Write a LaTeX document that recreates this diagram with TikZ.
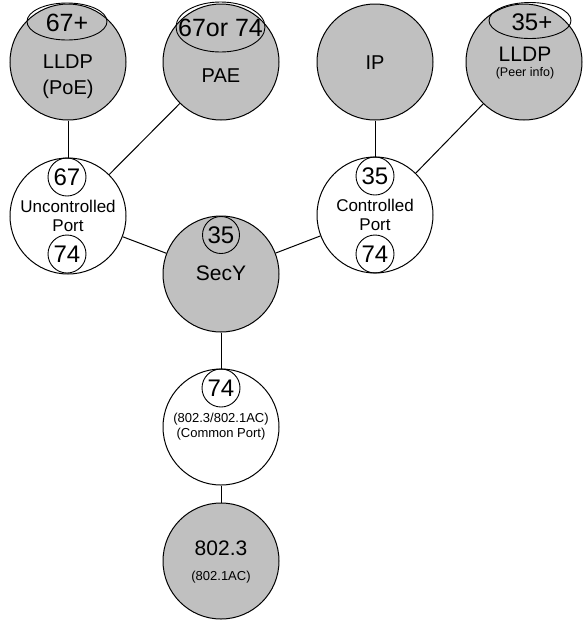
\documentclass[tikz,border=0pt]{standalone}
\usepackage{fontspec}
\setmainfont{Liberation Sans}
\usetikzlibrary{shapes.geometric}
\definecolor{layergray}{HTML}{C0C0C0}
\newcommand{\fs}[1]{\fontsize{#1}{#1}\selectfont}
\begin{document}
\begin{tikzpicture}[x=1pt,y=-1pt,
  big/.style={circle,draw,line width=1pt,minimum size=116pt,inner sep=0pt},
  shaded/.style={big,fill=layergray},
  plain/.style={big,fill=white},
  tag/.style={circle,draw,line width=0.9pt,minimum size=38pt,inner sep=0pt,font=\fs{24}},
  hat/.style={ellipse,draw,line width=0.9pt,inner sep=0pt},
  lbl/.style={inner sep=0pt},
  link/.style={line width=1pt}]
\useasboundingbox (0,0) rectangle (582,622);

% protocol entities
\node[shaded] (lldpA) at (68,62) {};
\node[shaded] (pae) at (221,62) {};
\node[shaded] (ip) at (375,62) {};
\node[shaded] (lldpB) at (524,62) {};
\node[plain] (unc) at (68,216) {};
\node[shaded] (secy) at (221,274) {};
\node[plain] (ctl) at (375,215) {};
\node[plain] (common) at (221,427) {};
\node[shaded] (mac) at (221,561) {};

% connections between entities
\draw[link] (lldpA) -- (unc);
\draw[link] (pae) -- (unc);
\draw[link] (ip) -- (ctl);
\draw[link] (lldpB) -- (ctl);
\draw[link] (unc) -- (secy);
\draw[link] (ctl) -- (secy);
\draw[link] (secy) -- (common);
\draw[link] (common) -- (mac);

% LLDP (PoE)
\node[hat,minimum width=80pt,minimum height=37pt] (lldpAhat) at (67,21.5) {};
\node[lbl,font=\fs{25}] (lldpAtag) at (67,23) {67+};
\node[lbl,font=\fs{20}] (lldpAname) at (68,62) {LLDP};
\node[lbl,font=\fs{20}] (lldpAsub) at (68,89) {(PoE)};

% PAE
\node[hat,minimum width=89pt,minimum height=50pt] (paehat) at (220.5,27) {};
\node[lbl,font=\fs{25}] (paetag) at (220.5,28) {67or 74};
\node[lbl,font=\fs{20}] (paename) at (221,76) {PAE};

% IP
\node[lbl,font=\fs{20}] (ipname) at (375,63) {IP};

% LLDP (peer info)
\node[hat,minimum width=82pt,minimum height=36pt] (lldpBhat) at (530,20.5) {};
\node[lbl,font=\fs{24}] (lldpBtag) at (532,22) {35+};
\node[lbl,font=\fs{21}] (lldpBname) at (525,54) {LLDP};
\node[lbl,font=\fs{12.5}] (lldpBsub) at (525,73) {(Peer info)};

% Uncontrolled port
\node[tag] (unctop) at (67,177) {67};
\node[lbl,font=\fs{17}] (uncname) at (68,206) {Uncontrolled};
\node[lbl,font=\fs{17}] (uncport) at (68,226) {Port};
\node[tag] (uncbot) at (67,254) {74};

% Controlled port
\node[tag] (ctltop) at (375,176) {35};
\node[lbl,font=\fs{17}] (ctlname) at (375,205) {Controlled};
\node[lbl,font=\fs{17}] (ctlport) at (375,225) {Port};
\node[tag] (ctlbot) at (375,254) {74};

% SecY
\node[tag,minimum size=37pt] (secytag) at (221,235) {35};
\node[lbl,font=\fs{21}] (secyname) at (221,273) {SecY};

% Common port
\node[tag] (commontag) at (221,388) {74};
\node[lbl,font=\fs{13}] (commonname) at (221,419) {(802.3/802.1AC)};
\node[lbl,font=\fs{13}] (commonsub) at (221,434) {(Common Port)};

% MAC
\node[lbl,font=\fs{21}] (macname) at (221,548) {802.3};
\node[lbl,font=\fs{13}] (macsub) at (221,577) {(802.1AC)};
\end{tikzpicture}
\end{document}
